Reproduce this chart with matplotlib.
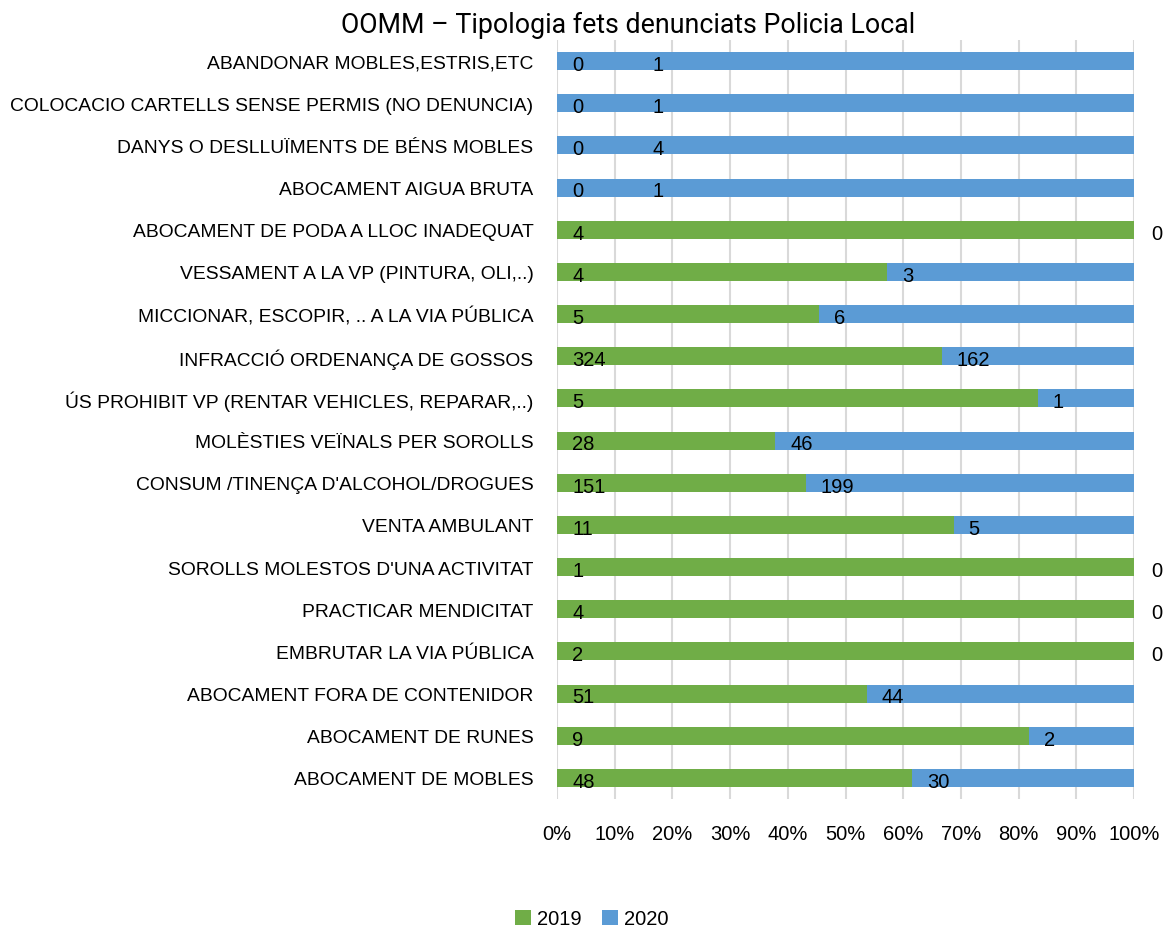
import matplotlib.pyplot as plt
import numpy as np

# Categories listed bottom to top
categories = [
    "ABOCAMENT DE MOBLES",
    "ABOCAMENT DE RUNES",
    "ABOCAMENT FORA DE CONTENIDOR",
    "EMBRUTAR LA VIA PÚBLICA",
    "PRACTICAR MENDICITAT",
    "SOROLLS MOLESTOS D'UNA ACTIVITAT",
    "VENTA AMBULANT",
    "CONSUM /TINENÇA D'ALCOHOL/DROGUES",
    "MOLÈSTIES VEÏNALS PER SOROLLS",
    "ÚS PROHIBIT VP (RENTAR VEHICLES, REPARAR,..)",
    "INFRACCIÓ ORDENANÇA DE GOSSOS",
    "MICCIONAR, ESCOPIR, .. A LA VIA PÚBLICA",
    "VESSAMENT A LA VP (PINTURA, OLI,..)",
    "ABOCAMENT DE PODA A LLOC INADEQUAT",
    "ABOCAMENT AIGUA BRUTA",
    "DANYS O DESLLUÏMENTS DE BÉNS MOBLES",
    "COLOCACIO CARTELLS SENSE PERMIS (NO DENUNCIA)",
    "ABANDONAR MOBLES,ESTRIS,ETC",
]
values_2019 = [48, 9, 51, 2, 4, 1, 11, 151, 28, 5, 324, 5, 4, 4, 0, 0, 0, 0]
values_2020 = [30, 2, 44, 0, 0, 0, 5, 199, 46, 1, 162, 6, 3, 0, 1, 4, 1, 1]
series_names = ["2019", "2020"]

GREEN = "#70AD47"
BLUE = "#5B9BD5"
FS = 14.5

plt.rcParams['font.family'] = ['Liberation Sans', 'DejaVu Sans']

v19 = np.array(values_2019, dtype=float)
v20 = np.array(values_2020, dtype=float)
total = v19 + v20
p19 = v19 / total * 100
p20 = v20 / total * 100
y = np.arange(len(categories))

fig = plt.figure(figsize=(11.63, 9.29), dpi=100)
ax = fig.add_axes([557 / 1163, 1 - 800 / 929, (1134 - 557) / 1163, (800 - 41) / 929])

ax.barh(y, p19, height=0.43, color=GREEN, label=series_names[0], zorder=2)
ax.barh(y, p20, left=p19, height=0.43, color=BLUE, label=series_names[1], zorder=2)

# data labels: inside base of each segment
off = 2.6
dy = 0.08
for i in range(len(categories)):
    ax.text(off, y[i] - dy, str(values_2019[i]), ha='left', va='center', fontsize=FS)
    if values_2020[i] == 0:
        ax.text(p19[i] + 3.0, y[i] - dy, "0", ha='left', va='center', fontsize=FS,
                clip_on=False)
    else:
        # labels of segments starting at 0 sit further right in the original
        x20 = p19[i] + off if values_2019[i] > 0 else 16.5
        ax.text(x20, y[i] - dy, str(values_2020[i]), ha='left',
                va='center', fontsize=FS)

ax.set_xlim(0, 100)
ax.set_ylim(-0.5, len(categories) - 0.5)
ax.set_xticks(np.arange(0, 101, 10))
ax.set_xticklabels([f"{t}%" for t in range(0, 101, 10)], fontsize=FS)
ax.set_yticks(y)
ax.set_yticklabels(categories, fontsize=13.9)
ax.tick_params(axis='both', length=0)
ax.tick_params(axis='x', pad=18)
ax.tick_params(axis='y', pad=17)
ax.grid(axis='x', color='#D9D9D9', linewidth=1.5, zorder=0)
for s in ax.spines.values():
    s.set_visible(False)

fig.text(628 / 1163, 1 - 25 / 929, "OOMM – Tipologia fets denunciats Policia Local",
         ha='center', va='center', fontsize=19.3, family=['Roboto', 'DejaVu Sans'])

fig.legend(loc='center', bbox_to_anchor=(592 / 1163, 1 - 920 / 929), ncol=2,
           frameon=False, fontsize=FS, handlelength=0.8, handleheight=0.8,
           handletextpad=0.3, columnspacing=1.0)

fig.savefig("out.png", dpi=100)
